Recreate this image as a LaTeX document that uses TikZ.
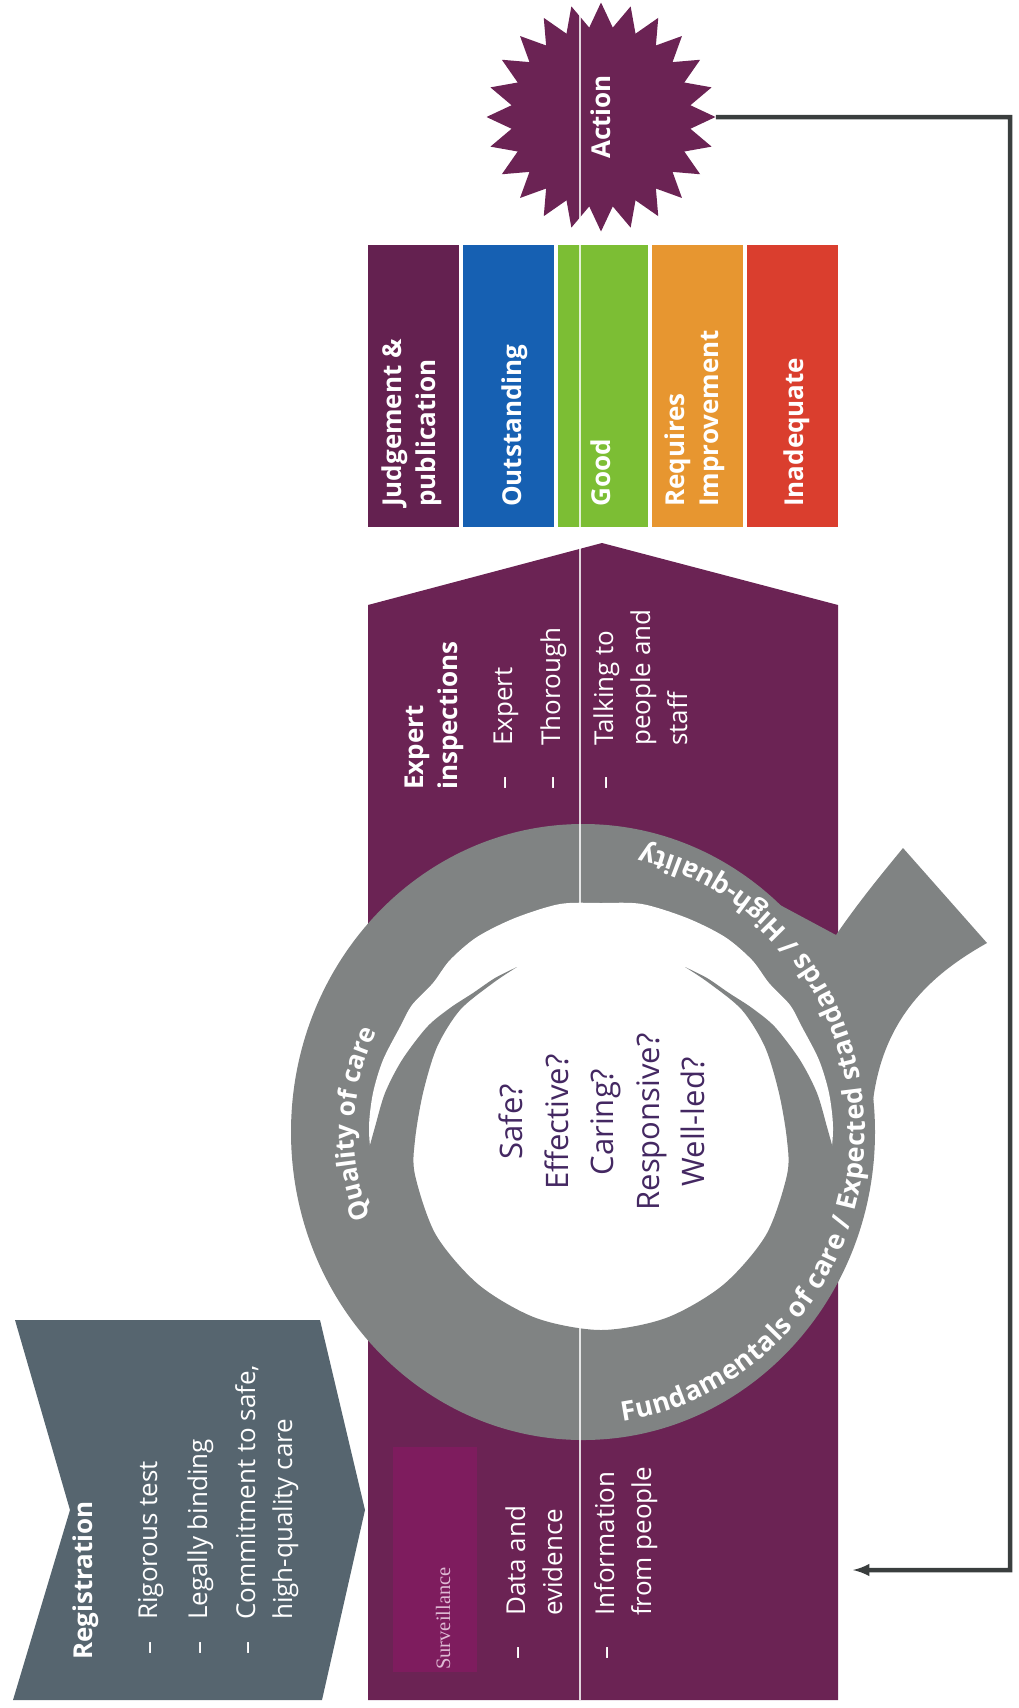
\documentclass[tikz,border=0pt]{standalone}
\usepackage{fontspec}
\setmainfont{Open Sans}
\newfontfamily\survfont{Liberation Serif}
\usepackage{graphicx}
\usepackage{tikz}
\usetikzlibrary{arrows,shapes.geometric,decorations.text}

\definecolor{regslate}{RGB}{86,101,111}
\definecolor{bandplum}{RGB}{107,35,84}
\definecolor{survmag}{RGB}{126,28,94}
\definecolor{ringgray}{RGB}{128,131,131}
\definecolor{judgeplum}{RGB}{100,33,80}
\definecolor{outblue}{RGB}{22,96,178}
\definecolor{goodgreen}{RGB}{124,190,52}
\definecolor{reqorange}{RGB}{231,150,48}
\definecolor{inadred}{RGB}{218,62,46}
\definecolor{askpurple}{RGB}{68,40,98}
\definecolor{survpink}{RGB}{222,186,212}
\definecolor{loopgray}{RGB}{58,62,62}

\newcommand{\dashin}[1][44pt]{\makebox[#1][l]{--}}
\newcommand{\textin}[1][44pt]{\hspace*{#1}}

\begin{document}
\begin{tikzpicture}[x=1pt,y=-1pt,
		whitetext/.style={rotate=90,anchor=base west,inner sep=0pt,text=white,align=left,font=\fontsize{26}{37}\selectfont},
		headtext/.style={whitetext,font=\fontsize{26}{34}\selectfont\bfseries}]
		\useasboundingbox (0,0) rectangle (1018,1708);
%		\draw[help lines,step=100] (0,0) grid (1018,1708);
		\path (601,117) coordinate (action_c);
		\path (1010,117) coordinate (loop_ne);
		\path (1010,1570) coordinate (loop_se);
		\path (853,1570) coordinate (loop_end);
		\path (583,1132) coordinate (ring_c);
		\path (602,1122) coordinate (asks_c);

		% ratings
		\fill[judgeplum] (368,245) rectangle (458.8,527);
		\fill[outblue] (462.8,245) rectangle (553.6,527);
		\fill[goodgreen] (557.6,245) rectangle (648.4,527);
		\fill[reqorange] (652.4,245) rectangle (743.2,527);
		\fill[inadred] (747.2,245) rectangle (838,527);

		\node[star,star points=24,star point ratio=1.27,minimum size=229pt,inner sep=0pt,fill=bandplum,text=white,font=\fontsize{26}{26}\selectfont\bfseries] (action) at (action_c) {\rotatebox{90}{Action}};
		\draw[loopgray,line width=4.5pt,-latex] (action) -- (loop_ne) -- (loop_se) -- (loop_end);

		% band, surveillance, registration
		\fill[bandplum] (368,1700) -- (368,605) -- (602,543) -- (838,605) -- (838,1700) -- cycle;
		\fill[survmag] (393,1447) rectangle (477,1672);
		\fill[regslate] (15,1320) -- (320,1320) -- (365,1510) -- (322,1700) -- (13,1700) -- (70,1510) -- cycle;

		% ring with tail
		\fill[ringgray] (ring_c) ellipse[x radius=292,y radius=308];
		\fill[ringgray] (780,905) -- (836,935) .. controls (860,900) and (885,870) .. (903,848) -- (987,943) .. controls (930,975) and (880,1020) .. (872,1110) -- (790,1110) -- cycle;
		\fill[white] plot[smooth cycle] coordinates {(601,903) (642,904) (687,918) (725,937) (752,960) (769,983) (790,1005) (802,1027) (819,1060) (829,1093) (833,1127) (830,1160) (818,1215) (774,1285) (697,1325) (601,1338) (505,1325) (428,1285) (384,1215) (372,1160) (369,1127) (373,1093) (383,1060) (400,1027) (412,1005) (433,983) (450,960) (477,937) (515,918) (560,904)};
		\fill[ringgray] plot[smooth] coordinates {(517,967) (495,978) (473,993) (450,1008) (427,1027) (402,1060) (385,1093) (375,1127) (370,1145)}
			-- (355,1160) -- (395,1300) -- (601,1375) -- (807,1300) -- (847,1160)
			-- plot[smooth] coordinates {(832,1145) (827,1127) (817,1093) (800,1060) (775,1027) (752,1008) (729,993) (707,978) (685,967)}
			-- plot[smooth] coordinates {(685,967) (709,983) (742,1010) (765,1047) (779,1093) (787,1140) (787,1175) (766,1235) (723,1285) (666,1318) (601,1330) (536,1318) (479,1285) (436,1235) (415,1175) (415,1140) (423,1093) (437,1047) (460,1010) (493,983) (517,967)}
			-- cycle;

		\draw[white,opacity=0.8,line width=1.2pt] (580,8) -- (580,1700);

		% texts
		\node[headtext] (judge) at (435,507) {Judgement \&\\publication};
		\node[headtext] (outst) at (521,507) {Outstanding};
		\node[headtext] (good) at (610,507) {Good};
		\node[headtext] (reqimp) at (718,507) {Requires\\Improvement};
		\node[headtext] (inadeq) at (803,507) {Inadequate};

		\node[headtext] (insphead) at (457,790) {Expert\\inspections};
		\node[whitetext] (insp1) at (512,790) {\dashin Expert};
		\node[whitetext] (insp2) at (560,790) {\dashin Thorough};
		\node[whitetext] (insp3) at (687,790) {\dashin Talking to\\\textin people and\\\textin staff};

		\node[whitetext,text=survpink,font=\fontsize{20.5}{20.5}\selectfont\survfont] (survhead) at (450,1670) {Surveillance};
		\node[whitetext] (surv1) at (562,1660) {\dashin Data and\\\textin evidence};
		\node[whitetext] (surv2) at (651,1660) {\dashin Information\\\textin from people};

		\node[headtext] (reghead) at (92,1660) {Registration};
		\node[whitetext] (reg1) at (157,1655) {\dashin[35pt]Rigorous test};
		\node[whitetext] (reg2) at (207,1655) {\dashin[35pt]Legally binding};
		\node[whitetext] (reg3) at (292,1655) {\dashin[35pt]Commitment to safe,\\\textin[35pt]high-quality care};

		\node[rotate=90,align=center,inner sep=0pt,text=askpurple,font=\fontsize{31}{45.5}\selectfont] (asks) at (asks_c) {Safe?\\Effective?\\Caring?\\Responsive?\\Well-led?};

		\path[decorate,decoration={text along path,text align=center,text={|\fontsize{26}{26}\selectfont\bfseries\color{white}|Quality of care}}]
			(ring_c) ++(147:229) arc[start angle=147,end angle=217,radius=229];
		\path[decorate,decoration={text along path,text align={fit to path},text={|\fontsize{27}{27}\selectfont\bfseries\color{white}|Fundamentals of care / Expected standards / High-quality}}]
			(ring_c) ++(82:282 and 292) arc[start angle=82,end angle=-78,x radius=282,y radius=292];
	\end{tikzpicture}
\end{document}
